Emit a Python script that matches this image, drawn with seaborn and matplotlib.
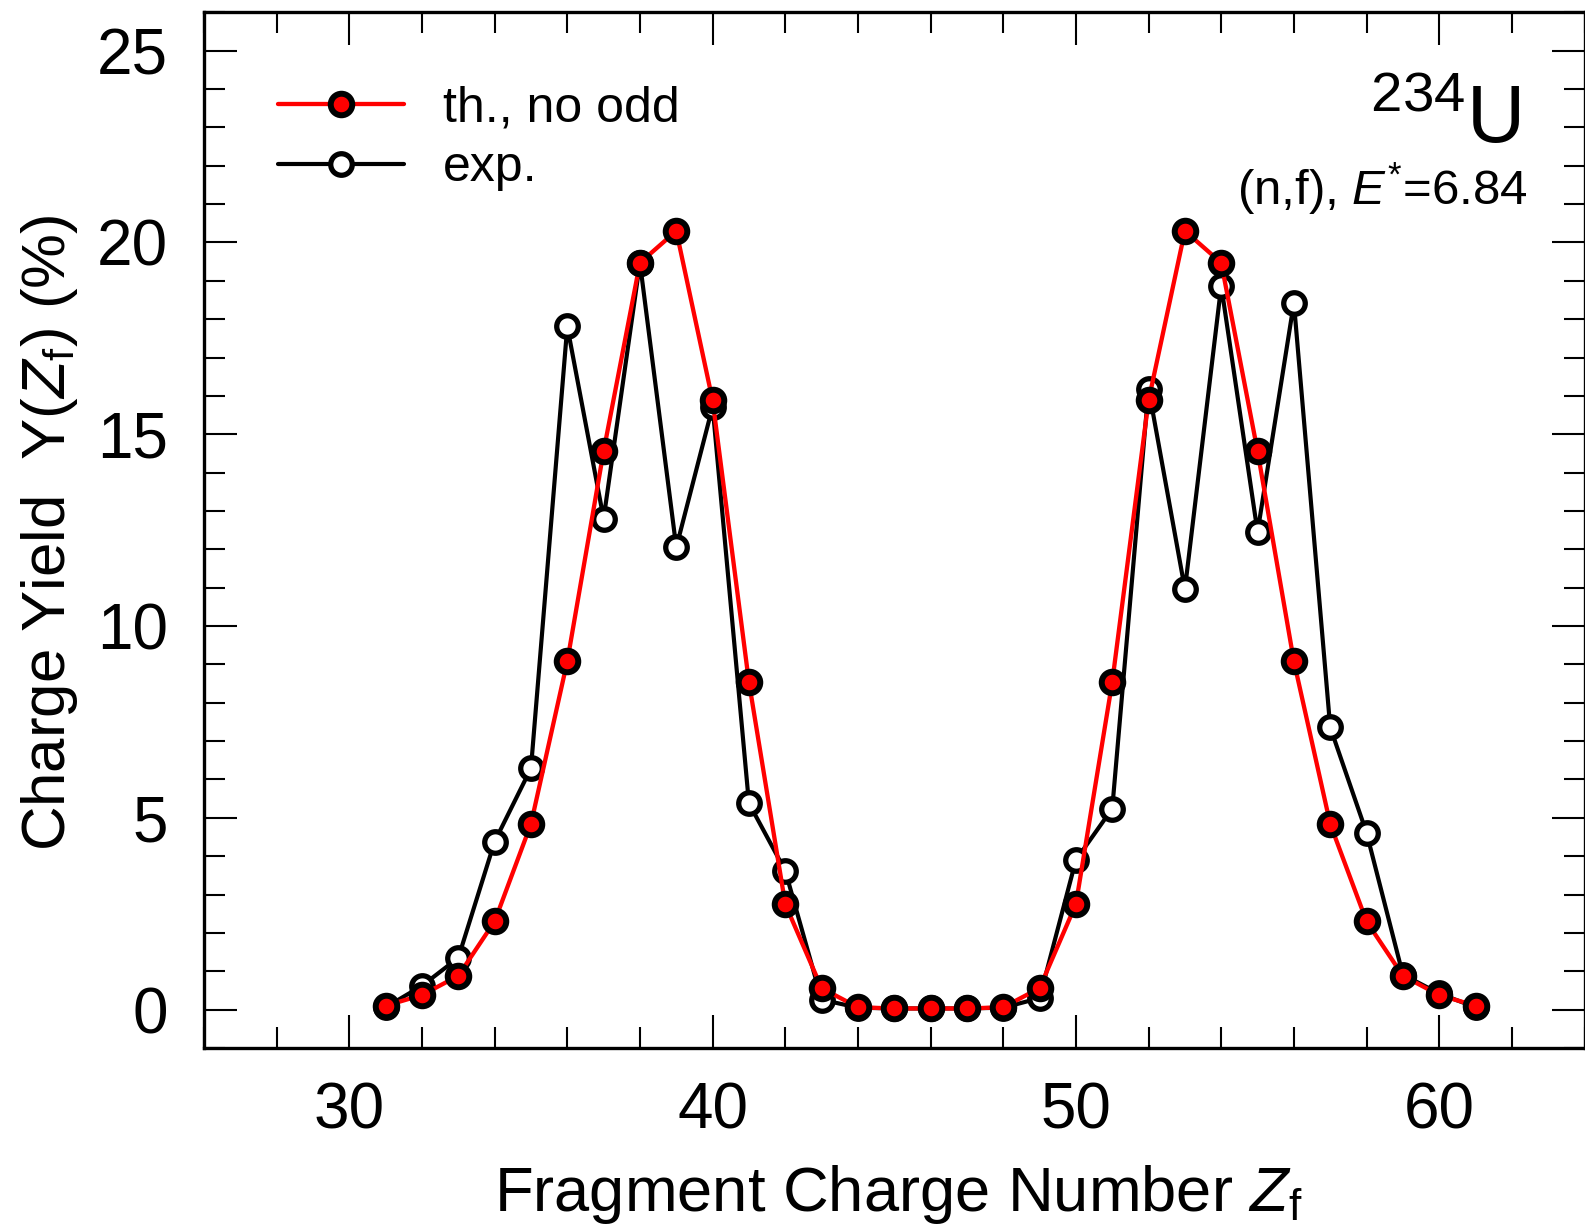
import matplotlib
matplotlib.use("Agg")
import matplotlib.pyplot as plt
from matplotlib.ticker import MultipleLocator
import seaborn as sns
import pandas as pd

# Fragment charge numbers Z_f
charge = list(range(31, 62))

# Theoretical charge yield (%), no odd-even effect
yield_theory = [0.10, 0.38, 0.88, 2.30, 4.84, 9.08, 14.56, 19.47, 20.30, 15.88,
                8.54, 2.75, 0.56, 0.06, 0.03, 0.03, 0.03, 0.06, 0.56, 2.75,
                8.54, 15.88, 20.30, 19.47, 14.56, 9.08, 4.84, 2.30, 0.88, 0.38,
                0.10]

# Experimental charge yield (%)
yield_exp = [0.06, 0.62, 1.35, 4.38, 6.29, 17.81, 12.80, 19.47, 12.05, 15.72,
             5.38, 3.62, 0.26, 0.05, 0.03, 0.03, 0.03, 0.05, 0.30, 3.90,
             5.24, 16.19, 10.96, 18.87, 12.45, 18.43, 7.36, 4.61, 0.91, 0.42,
             0.06]

legend_labels = ["th., no odd", "exp."]
x_label = r"Fragment Charge Number $\mathit{Z}_{\mathrm{f}}$"
y_label = r"Charge Yield  Y($\mathit{Z}_{\mathrm{f}}$) (%)"
nucleus_label = r"$^{234}$U"
reaction_label = r"(n,f), $\mathit{E}^{*}$=6.84"

df = pd.DataFrame({"Z": charge, "theory": yield_theory, "exp": yield_exp})

sns.set_theme(style="ticks")
plt.rcParams["font.family"] = ["Liberation Sans", "DejaVu Sans"]
plt.rcParams["mathtext.fontset"] = "custom"
plt.rcParams["mathtext.rm"] = "Liberation Sans"
plt.rcParams["mathtext.it"] = "Liberation Sans:italic"
plt.rcParams["mathtext.bf"] = "Liberation Sans:bold"
for key in ["text.color", "axes.labelcolor", "xtick.color", "ytick.color",
            "axes.edgecolor"]:
    plt.rcParams[key] = "black"

fig = plt.figure(figsize=(15.85, 12.30), dpi=100)
ax = fig.add_axes([0.1287, 0.148, 0.871, 0.842])

sns.lineplot(data=df, x="Z", y="exp", ax=ax, color="black", linewidth=3.0,
             marker="o", markersize=15.5, markerfacecolor="white",
             markeredgecolor="black", markeredgewidth=3.8, sort=False,
             label=legend_labels[1], zorder=3)
sns.lineplot(data=df, x="Z", y="theory", ax=ax, color="#ff0000", linewidth=3.1,
             marker="o", markersize=15.5, markerfacecolor="#ff0000",
             markeredgecolor="black", markeredgewidth=4.3, sort=False,
             label=legend_labels[0], zorder=4)

ax.set_xlim(26, 64)
ax.set_ylim(-1, 26)
ax.xaxis.set_major_locator(MultipleLocator(10))
ax.xaxis.set_minor_locator(MultipleLocator(2))
ax.yaxis.set_major_locator(MultipleLocator(5))
ax.yaxis.set_minor_locator(MultipleLocator(1))

for side in ["left", "right", "top", "bottom"]:
    ax.spines[side].set_visible(True)
    ax.spines[side].set_linewidth(2.4)
    ax.spines[side].set_color("black")

ax.tick_params(axis="both", which="both", direction="in", top=True, right=True,
               colors="black", width=1.5)
ax.tick_params(axis="both", which="major", length=23.5, labelsize=46)
ax.tick_params(axis="both", which="minor", length=15)
ax.tick_params(axis="x", which="major", pad=24)
ax.tick_params(axis="y", which="major", pad=26)

ax.set_xlabel(x_label, fontsize=45.5)
ax.set_ylabel(y_label, fontsize=44.5)
ax.xaxis.set_label_coords(0.503, -0.111)
ax.yaxis.set_label_coords(-0.09, 0.497)

handles, labels = ax.get_legend_handles_labels()
order = [labels.index(legend_labels[0]), labels.index(legend_labels[1])]
ax.legend([handles[i] for i in order], [labels[i] for i in order],
          loc="upper left", bbox_to_anchor=(0.0536, 0.9295), frameon=False,
          fontsize=36, handlelength=2.52, handletextpad=0.78,
          labelspacing=0.28, borderaxespad=0, borderpad=0)

ax.text(0.954, 0.875, nucleus_label, transform=ax.transAxes, ha="right",
        va="baseline", fontsize=58)
ax.text(0.959, 0.814, reaction_label, transform=ax.transAxes, ha="right",
        va="baseline", fontsize=35.5)

fig.savefig("out.png", dpi=100, facecolor="white")
